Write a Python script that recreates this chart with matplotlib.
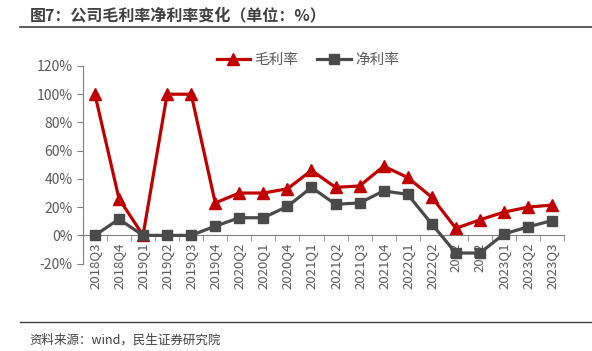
import numpy as np
import matplotlib.pyplot as plt
from matplotlib.ticker import FixedLocator, PercentFormatter

plt.rcParams['font.family'] = ['Noto Sans CJK SC', 'DejaVu Sans']
plt.rcParams['axes.unicode_minus'] = False

quarters = ['2018Q3', '2018Q4', '2019Q1', '2019Q2', '2019Q3', '2019Q4', '2020Q2',
            '2020Q1', '2020Q4', '2021Q1', '2021Q2', '2021Q3', '2021Q4', '2022Q1',
            '2022Q2', '2022', '2022', '2023Q1', '2023Q2', '2023Q3']
gross_margin = [100, 26, 0, 100, 100, 23, 30, 30, 33, 46, 34, 35, 49, 41, 27, 5, 11,
                16.5, 20, 21.5]
net_margin = [0, 11.5, 0, 0, 0, 6.5, 12.5, 12.5, 20.5, 34, 22, 23, 31.5, 29, 8,
              -12.5, -12.5, 1, 6, 10.5]

red = '#C00000'
gray = '#4A4A4A'
txt = '#595959'

fig = plt.figure(figsize=(5.92, 3.51), dpi=100)
ax = fig.add_axes([0.140, 0.249, 0.813, 0.563])

x = np.arange(len(quarters))
ax.plot(x, gross_margin, color=red, lw=2.3, marker='^', ms=8, label='毛利率', zorder=3)
ax.plot(x, net_margin, color=gray, lw=2.3, marker='s', ms=7.5, label='净利率', zorder=3)

# spine position first, it resets the tick settings
ax.spines['top'].set_visible(False)
ax.spines['right'].set_visible(False)
ax.spines['bottom'].set_position(('data', 0))
ax.spines['bottom'].set_color('#808080')
ax.spines['left'].set_color('#808080')

ax.set_xlim(-0.5, len(quarters) - 0.5)
ax.set_ylim(-20, 120)
ax.set_yticks(np.arange(-20, 121, 20))
ax.yaxis.set_major_formatter(PercentFormatter(decimals=0))

ax.set_xticks(x)
ax.set_xticklabels(quarters)
ax.xaxis.set_minor_locator(FixedLocator(np.arange(-0.5, len(quarters), 1)))
ax.tick_params(axis='x', which='major', length=0, pad=5, labelsize=9.5,
               labelcolor=txt, labelrotation=90)
ax.tick_params(axis='x', which='minor', length=4, color='#808080', direction='out')
ax.tick_params(axis='y', length=4, color='#808080', labelsize=10, labelcolor=txt)

fig.legend(loc='center', bbox_to_anchor=(0.52, 0.83), ncol=2, frameon=False,
           fontsize=10.5, labelcolor=txt, handlelength=2.3, columnspacing=1.3,
           handletextpad=0.3)

fig.text(0.05, 0.955, '图7：公司毛利率净利率变化（单位：%）', fontsize=11.5,
         fontweight='bold', color='#404040', va='center')
fig.add_artist(plt.Line2D([0.034, 1.0], [0.922, 0.922], color='#404040', lw=1.2))
fig.add_artist(plt.Line2D([0.034, 1.0], [0.083, 0.083], color='#404040', lw=1.0))
fig.text(0.05, 0.032, '资料来源：wind，民生证券研究院', fontsize=9, color='#404040',
         va='center')

fig.savefig('out.png', dpi=100)
